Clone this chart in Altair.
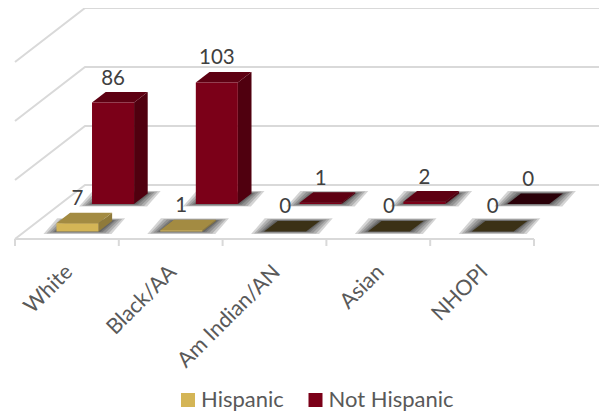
import altair as alt
import pandas as pd

categories = ["White", "Black/AA", "Am Indian/AN", "Asian", "NHOPI"]
hispanic = [7, 1, 0, 0, 0]
not_hispanic = [86, 103, 1, 2, 0]
series_names = ["Hispanic", "Not Hispanic"]
gridline_values = [0, 50, 100, 150]

FRONT = {"Hispanic": "#D4B556", "Not Hispanic": "#7B0018"}
SIDE = {"Hispanic": "#8F7A3A", "Not Hispanic": "#50000F"}
TOP = {"Hispanic": "#A38B42", "Not Hispanic": "#5E0012"}
TOP_ZERO = {"Hispanic": "#3B3116", "Not Hispanic": "#2A0008"}
GRID = "#D9D9D9"

# Oblique projection, in data units (categories across, counts up)
KX, KY = 103.8, 1.18            # pixels per category, pixels per count
PW, PH = 591, 404               # plot size
X0, Y0 = 7, 231                 # plot pixel of the front-left floor corner
DEPTH_X, DEPTH_Y = 70 / KX, 54 / KY
BAR_START, BAR_W = 0.305, 0.405
SERIES_DEPTH = {"Hispanic": (0.14, 0.335), "Not Hispanic": (0.648, 0.843)}

def px(c, d=0.0):
    return c + DEPTH_X * d

def py(v, d=0.0):
    return v + DEPTH_Y * d

rows_front, rows_side, rows_top, rows_shadow, rows_label = [], [], [], [], []
for s, vals in zip(series_names, [hispanic, not_hispanic]):
    d1, d2 = SERIES_DEPTH[s]
    for i, v in enumerate(vals):
        c0 = i + BAR_START
        c1 = c0 + BAR_W
        key = f"{s}-{i}"
        rows_front.append({"series": s, "x": px(c0, d1), "x2": px(c1, d1),
                           "y": py(v, d1), "y2": py(0, d1)})
        rows_side += [
            {"id": key, "fill": SIDE[s], "x": px(c1, d1), "y": py(v, d1), "y2": py(0, d1)},
            {"id": key, "fill": SIDE[s], "x": px(c1, d2), "y": py(v, d2), "y2": py(0, d2)},
        ]
        top_fill = TOP_ZERO[s] if v == 0 else TOP[s]
        rows_top += [
            {"id": key, "fill": top_fill, "y": py(v, d1), "x": px(c0, d1), "x2": px(c1, d1)},
            {"id": key, "fill": top_fill, "y": py(v, d2), "x": px(c0, d2), "x2": px(c1, d2)},
        ]
        for step, (grow_x, grow_y) in enumerate([(13, 2.6), (10, 2.0), (7, 1.4), (4, 0.8), (2, 0.3)]):
            gx, gy = grow_x / KX, grow_y / KY
            sk = f"{key}-{step}"
            rows_shadow += [
                {"id": sk, "y": py(0, d1) - gy, "x": px(c0, d1) - gx, "x2": px(c1, d1) + gx},
                {"id": sk, "y": py(0, d2) + gy, "x": px(c0, d2) - gx, "x2": px(c1, d2) + gx},
            ]
        rows_label.append({"t": str(v), "x": px(c0 + BAR_W / 2, d1), "y": py(v, d1)})

rows_grid = []
for v in gridline_values:
    rows_grid += [
        {"id": f"g{v}", "o": 0, "x": px(0, 0), "y": py(v, 0)},
        {"id": f"g{v}", "o": 1, "x": px(0, 1), "y": py(v, 1)},
        {"id": f"g{v}", "o": 2, "x": px(5.015, 1), "y": py(v, 1)},
    ]
rows_grid += [
    {"id": "front", "o": 0, "x": 0, "y": 0},
    {"id": "front", "o": 1, "x": 5, "y": 0},
]
for i in range(6):
    rows_grid += [
        {"id": f"t{i}", "o": 0, "x": i, "y": 0},
        {"id": f"t{i}", "o": 1, "x": i, "y": -7 / KY},
    ]
rows_cat = [{"t": t, "x": i + 0.525, "y": -25.5} for i, t in enumerate(categories)]

xs = alt.Scale(domain=[-X0 / KX, (PW - X0) / KX], nice=False, zero=False)
ys = alt.Scale(domain=[(Y0 - PH) / KY, Y0 / KY], nice=False, zero=False)
X = alt.X("x:Q", scale=xs, axis=None)
Y = alt.Y("y:Q", scale=ys, axis=None)

grid = alt.Chart(pd.DataFrame(rows_grid)).mark_line(color=GRID, strokeWidth=2).encode(
    x=X, y=Y, detail="id:N", order="o:Q")
shadow = alt.Chart(pd.DataFrame(rows_shadow)).mark_area(
    orient="horizontal", color="#000000", opacity=0.17).encode(
    y=Y, x=X, x2="x2:Q", detail="id:N")
side = alt.Chart(pd.DataFrame(rows_side)).mark_area().encode(
    x=X, y=Y, y2="y2:Q", detail="id:N", color=alt.Color("fill:N", scale=None))
top = alt.Chart(pd.DataFrame(rows_top)).mark_area(orient="horizontal").encode(
    y=Y, x=X, x2="x2:Q", detail="id:N", color=alt.Color("fill:N", scale=None))
front = alt.Chart(pd.DataFrame(rows_front)).mark_bar().encode(
    x=X, x2="x2:Q", y=Y, y2="y2:Q",
    color=alt.Color("series:N",
                    scale=alt.Scale(domain=series_names, range=[FRONT[s] for s in series_names]),
                    legend=alt.Legend(orient="none", legendX=169, legendY=381, title=None,
                                      direction="horizontal", columns=2, symbolType="square",
                                      symbolSize=196, symbolStrokeWidth=0, labelFont="Lato",
                                      labelFontSize=22, labelColor="#595959", columnPadding=20.5,
                                      labelOffset=2)))
labels = alt.Chart(pd.DataFrame(rows_label)).mark_text(
    font="Lato", fontSize=20.5, color="#404040", dy=-24, baseline="middle").encode(
    x=X, y=Y, text="t:N")
cats = alt.Chart(pd.DataFrame(rows_cat)).mark_text(
    font="Lato", fontSize=21.5, color="#595959", angle=315, align="right", baseline="middle").encode(
    x=X, y=Y, text="t:N")

chart = alt.layer(grid, shadow, side, top, front, labels, cats).resolve_scale(color="independent").properties(
    width=PW, height=PH, padding=0, autosize=alt.AutoSizeParams(type="none"),
    background="#FFFFFF").configure_view(stroke=None)

chart.save("out.html", embed_options={"renderer": "svg", "actions": False})
